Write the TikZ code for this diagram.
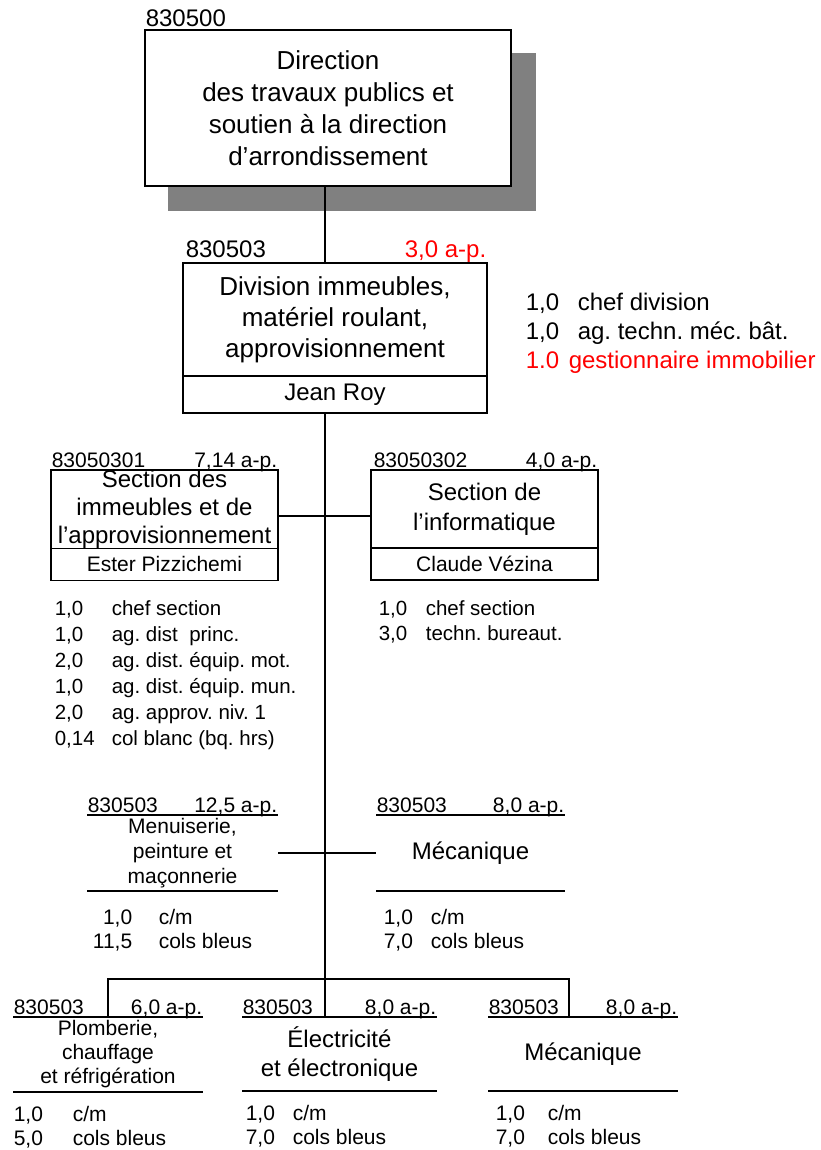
\documentclass[tikz,border=0pt]{standalone}
\usepackage{fontspec}
\setmainfont{Liberation Sans}
\usetikzlibrary{positioning, calc}
\definecolor{shadowgrey}{rgb}{0.5, 0.5, 0.5}
\definecolor{apred}{rgb}{1.0, 0, 0}
\newcommand{\setfs}[2]{\fontsize{#1pt}{#2pt}\selectfont}
\frenchspacing

\begin{document}
\begin{tikzpicture}[x=1pt, y=-1pt, line width=1.6pt,
        box/.style={draw, fill=white, inner sep=0pt, outer sep=0pt, anchor=north west, align=center},
        unit/.style={inner sep=0pt, outer sep=0pt, anchor=north west, align=center},
        code/.style={inner sep=0pt, font=\setfs{21}{21}},
        entry/.style={inner sep=0pt, anchor=base west}]
    \useasboundingbox (0,0) rectangle (820,1150);
    \coordinate (spine) at (325,0);

    % direction
    \fill[shadowgrey] (168,53) rectangle (536,211);
    \node[box, minimum width=366pt, minimum height=156pt, font=\setfs{26}{32}] (dir) at (145,30)
        {Direction\\des travaux publics et\\soutien à la direction\\d’arrondissement};
    \node[code, anchor=base west, yshift=3pt, font=\setfs{24}{24}] (code-dir) at (dir.north west) {830500};

    % division
    \node[box, minimum width=304pt, minimum height=113pt, font=\setfs{26}{31}] (div) at (183,263)
        {Division immeubles,\\matériel roulant,\\approvisionnement};
    \node[box, minimum width=304pt, minimum height=37pt, font=\setfs{24}{24}] (roy) at (div.south west) {Jean Roy};
    \node[code, anchor=base west, yshift=5pt, xshift=2pt, font=\setfs{24}{24}] (code-div) at (div.north west) {830503};
    \node[code, anchor=base east, yshift=5pt, text=apred, font=\setfs{24}{24}] (ap-div) at (div.north east) {3,0 a-p.};
    \begin{scope}[font=\setfs{24}{24}]
        \foreach \q/\t [count=\i] in {{1,0}/chef division, {1,0}/ag. techn. méc. bât.}{
            \node[entry] (divq\i) at (525,{281+29*\i}) {\q};
            \node[entry] (divt\i) at (577,{281+29*\i}) {\t};
        }
        \node[entry, text=apred] (divq3) at (525,368) {1.0};
        \node[entry, text=apred] (divt3) at (568,368) {gestionnaire immobilier};
    \end{scope}

    % sections
    \node[box, minimum width=227pt, minimum height=78pt, font=\setfs{24}{28}] (secimm) at (51,470)
        {Section des\\immeubles et de\\l’approvisionnement};
    \node[box, minimum width=227pt, minimum height=32pt, font=\setfs{21}{21}] (pizz) at (secimm.south west) {Ester Pizzichemi};
    \node[box, minimum width=227pt, minimum height=78pt, font=\setfs{24}{30}] (secinf) at (371,470)
        {Section de\\l’informatique};
    \node[box, minimum width=227pt, minimum height=32pt, font=\setfs{21}{21}] (vez) at (secinf.south west) {Claude Vézina};
    \node[code, anchor=base west, yshift=3pt] (code-secimm) at (secimm.north west) {83050301};
    \node[code, anchor=base east, yshift=3pt] (ap-secimm) at (secimm.north east) {7,14 a-p.};
    \node[code, anchor=base west, yshift=3pt, xshift=2pt] (code-secinf) at (secinf.north west) {83050302};
    \node[code, anchor=base east, yshift=3pt] (ap-secinf) at (secinf.north east) {4,0 a-p.};
    \begin{scope}[font=\setfs{20.5}{20.5}]
        \foreach \q/\t [count=\i] in {{1,0}/chef section, {1,0}/ag. dist~ princ., {2,0}/ag. dist. équip. mot.,
                {1,0}/ag. dist. équip. mun., {2,0}/ag. approv. niv. 1, {0,14}/col blanc (bq. hrs)}{
            \node[entry] (immq\i) at (54,{589+26*\i}) {\q};
            \node[entry] (immt\i) at (111,{589+26*\i}) {\t};
        }
        \foreach \q/\t [count=\i] in {{1,0}/chef section, {3,0}/techn. bureaut.}{
            \node[entry] (infq\i) at (378,{590+25*\i}) {\q};
            \node[entry] (inft\i) at (425,{590+25*\i}) {\t};
        }
    \end{scope}

    % ateliers
    \node[unit, minimum width=191pt, minimum height=76pt, font=\setfs{21}{25}] (menu) at (87,815)
        {Menuiserie,\\peinture et\\maçonnerie};
    \node[unit, minimum width=189pt, minimum height=76pt, font=\setfs{24}{24}] (meca) at (376,815) {Mécanique};
    \node[unit, minimum width=190pt, minimum height=75pt, font=\setfs{21}{24}] (plomb) at (13,1017)
        {Plomberie,\\chauffage\\et réfrigération};
    \node[unit, minimum width=195pt, minimum height=74pt, font=\setfs{24}{29}] (elec) at (242,1017)
        {Électricité\\et électronique};
    \node[unit, minimum width=190pt, minimum height=74pt, font=\setfs{24}{24}] (mecb) at (488,1017) {Mécanique};
    \foreach \u/\ap in {menu/{12,5}, meca/{8,0}, plomb/{6,0}, elec/{8,0}, mecb/{8,0}}{
        \draw (\u.north west) -- (\u.north east) (\u.south west) -- (\u.south east);
        \node[code, anchor=base west, yshift=3pt] (code-\u) at (\u.north west) {830503};
        \node[code, anchor=base east, yshift=3pt] (ap-\u) at (\u.north east) {\ap{} a-p.};
    }
    \begin{scope}[font=\setfs{21}{21}]
        \foreach \q/\t [count=\i] in {{1,0}/{c/m}, {11,5}/cols bleus}{
            \node[entry, anchor=base east] (menuq\i) at (133,{900+24*\i}) {\q};
            \node[entry] (menut\i) at (158,{900+24*\i}) {\t};
        }
        \foreach \u/\xq/\xt/\y/\n in {meca/383/430/900/{7,0}, plomb/13/72/1097/{5,0}, elec/245/292/1096/{7,0}, mecb/495/547/1096/{7,0}}{
            \node[entry] (\u q1) at (\xq,{\y+24}) {1,0};
            \node[entry] (\u t1) at (\xt,{\y+24}) {c/m};
            \node[entry] (\u q2) at (\xq,{\y+48}) {\n};
            \node[entry] (\u t2) at (\xt,{\y+48}) {cols bleus};
        }
    \end{scope}

    % connectors
    \coordinate (secjoin) at (0,516);
    \coordinate (mecbdrop) at (569,979);
    \draw (dir.south -| spine) -- (div.north -| spine);
    \draw (roy.south -| spine) -- (elec.north -| spine);
    \draw (secimm.east |- secjoin) -- (secinf.west |- secjoin);
    \draw (menu.east) -- (meca.west);
    \draw (plomb.north) |- (mecbdrop) -- (mecbdrop |- mecb.north);
\end{tikzpicture}
\end{document}
